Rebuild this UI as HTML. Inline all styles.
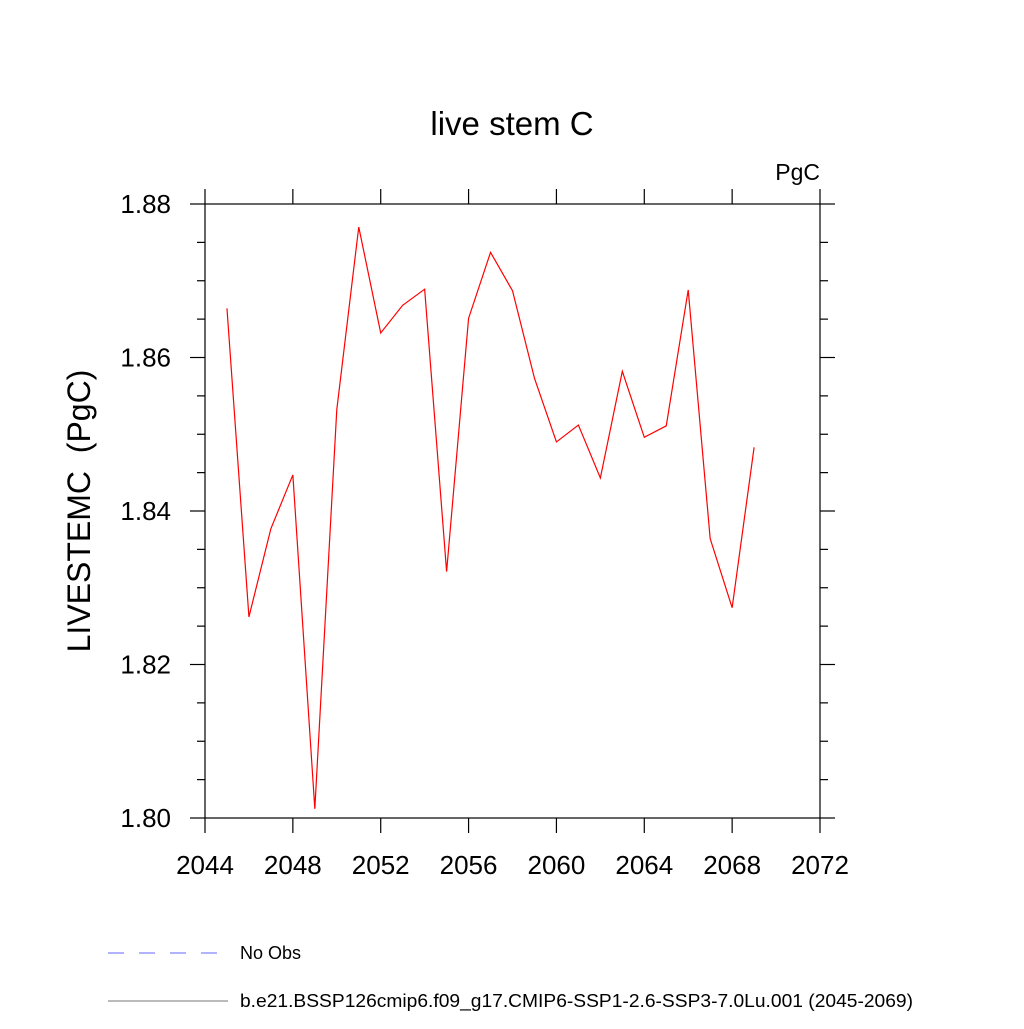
<!DOCTYPE html>
<html><head><meta charset="utf-8"><style>
body{margin:0;background:#fff;}
svg text{font-family:"Liberation Sans",sans-serif;fill:#000;}
</style></head><body>
<svg width="1024" height="1024" viewBox="0 0 1024 1024">
<text x="512" y="135" font-size="33" text-anchor="middle">live stem C</text>
<text x="820" y="180" font-size="23" text-anchor="end">PgC</text>
<text transform="translate(90,511) rotate(-90)" font-size="32" text-anchor="middle" xml:space="preserve">LIVESTEMC  (PgC)</text>
<rect x="205" y="204" width="615" height="614" fill="none" stroke="#000" stroke-width="1.2"/>
<g id="axes"></g>
<polyline id="series" fill="none" stroke="#ff0000" stroke-width="1.2"/>
<line x1="108" y1="953" x2="228" y2="953" stroke="#6666ff" stroke-width="1" stroke-dasharray="16,15"/>
<text x="240" y="959" font-size="18">No Obs</text>
<line x1="108" y1="1001" x2="228" y2="1001" stroke="#777" stroke-width="1"/>
<text x="240" y="1007" font-size="18" textLength="673" lengthAdjust="spacingAndGlyphs">b.e21.BSSP126cmip6.f09_g17.CMIP6-SSP1-2.6-SSP3-7.0Lu.001 (2045-2069)</text>
</svg>
<script>
const years=[2045,2046,2047,2048,2049,2050,2051,2052,2053,2054,2055,2056,2057,2058,2059,2060,2061,2062,2063,2064,2065,2066,2067,2068,2069];
const values=[1.8664,1.8262,1.8377,1.8447,1.8012,1.8532,1.8770,1.8632,1.8668,1.8689,1.8321,1.8651,1.8737,1.8687,1.8573,1.8490,1.8512,1.8443,1.8582,1.8496,1.8511,1.8688,1.8364,1.8274,1.8483];
const xTicks=[2044,2048,2052,2056,2060,2064,2068,2072];
const yTicks=[1.80,1.82,1.84,1.86,1.88];
const X0=205,X1=820,Y0=818,Y1=204;
const xs=v=>X0+(v-2044)/(2072-2044)*(X1-X0);
const ys=v=>Y0-(v-1.80)/(0.08)*(Y0-Y1);
const NS="http://www.w3.org/2000/svg";
const g=document.getElementById('axes');
function ln(x1,y1,x2,y2,name){const l=document.createElementNS(NS,'line');l.setAttribute('x1',x1);l.setAttribute('y1',y1);l.setAttribute('x2',x2);l.setAttribute('y2',y2);l.setAttribute('stroke','#000');l.setAttribute('stroke-width','1.2');


g.appendChild(l);}
function tx(x,y,s,anchor,name){const t=document.createElementNS(NS,'text');t.setAttribute('x',x);t.setAttribute('y',y);t.setAttribute('font-size','26');t.setAttribute('text-anchor',anchor);t.textContent=s;


g.appendChild(t);}
xTicks.forEach(v=>{const x=xs(v);ln(x,Y0,x,Y0+15,'x-tick');ln(x,Y1,x,Y1-15,'x-tick-top');tx(x,Y0+56,String(v),'middle','x-tick-label');});
yTicks.forEach(v=>{const y=ys(v);ln(X0,y,X0-15,y,'y-tick');ln(X1,y,X1+15,y,'y-tick-right');tx(X0-34,y+9,v.toFixed(2),'end','y-tick-label');});
for(let i=0;i<yTicks.length-1;i++){for(let k=1;k<4;k++){const y=ys(yTicks[i]+k*0.005);ln(X0,y,X0-8,y,'y-minor-tick');ln(X1,y,X1+8,y,'y-minor-tick-right');}}
document.getElementById('series').setAttribute('points',years.map((yr,i)=>xs(yr)+','+ys(values[i])).join(' '));
</script>
</body></html>
